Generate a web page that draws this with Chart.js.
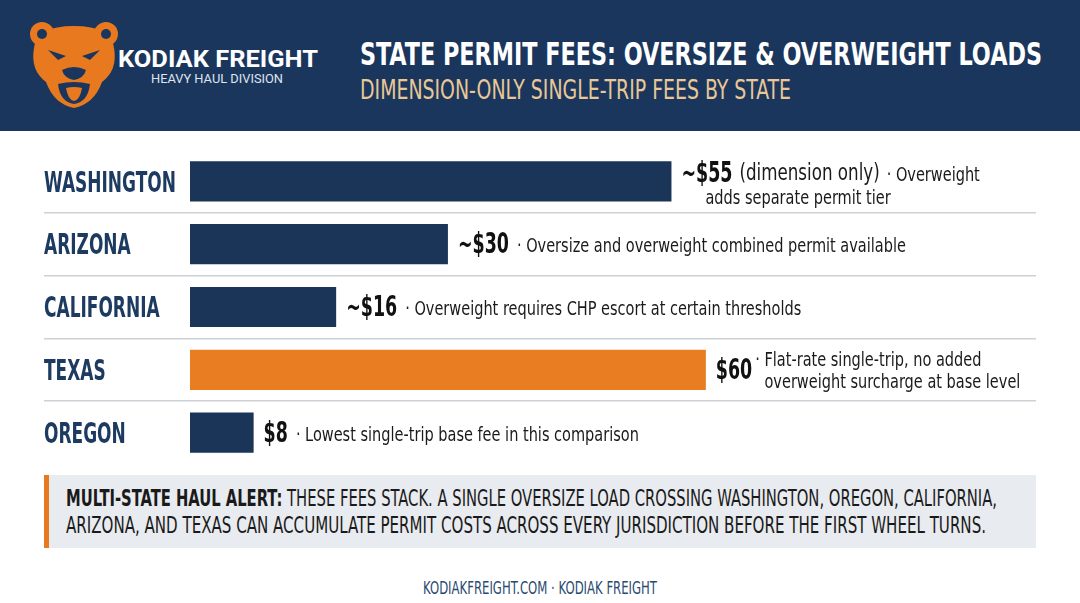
<!DOCTYPE html>
<html>
<head>
<meta charset="utf-8">
<script src="https://cdn.jsdelivr.net/npm/chart.js@4.4.1/dist/chart.umd.min.js"></script>
<style>
  html, body { margin: 0; padding: 0; background: #fff; }
  body { width: 1080px; height: 603px; position: relative; overflow: hidden; font-family: 'DejaVu Sans Condensed', sans-serif; }
  .header { position: absolute; left: 0; top: 0; width: 1080px; height: 131px; background: #1b365d; }
  .fit { position: absolute; white-space: nowrap; transform-origin: left center; line-height: 1; }
  #chartBox { position: absolute; left: 44px; top: 150px; width: 1036px; height: 314px; }
  .alert { position: absolute; left: 44px; top: 475px; width: 992px; height: 73px; background: #e8ebef; border-left: 5px solid #e8791f; box-sizing: border-box; }
</style>
</head>
<body>
<div class="header">
  <svg style="position:absolute;left:28px;top:18px" width="92" height="92" viewBox="0 0 92 92">
    <g fill="#e8791f">
      <circle cx="14" cy="16" r="12"/>
      <circle cx="78" cy="16" r="12"/>
      <path d="M6 30 Q8 8 46 8 Q84 8 86 30 Q90 52 74 64 Q66 86 46 90 Q26 86 18 64 Q2 52 6 30 Z"/>
    </g>
    <g fill="#1b365d">
      <circle cx="14" cy="16" r="5"/>
      <circle cx="78" cy="16" r="5"/>
      <path d="M20 32 L38 38 L30 42 Z"/>
      <path d="M72 32 L54 38 L62 42 Z"/>
      <path d="M34 52 Q46 46 58 52 Q56 60 46 62 Q36 60 34 52 Z"/>
      <path d="M30 66 Q46 62 62 66 Q60 84 46 86 Q32 84 30 66 Z"/>
    </g>
    <path d="M38 70 Q46 68 54 70 Q52 82 46 83 Q40 82 38 70 Z" fill="#e8791f"/>
  </svg>
  <div class="fit" data-w="200" style="left:118px;top:47px;font-family:Roboto,sans-serif;font-weight:700;font-size:24px;color:#fff">KODIAK FREIGHT</div>
  <div class="fit" data-w="132" style="left:151px;top:72px;font-family:Roboto,sans-serif;font-size:13px;color:#dfe5ee">HEAVY HAUL DIVISION</div>
  <div class="fit" data-w="682" style="left:360px;top:38px;font-weight:700;font-size:32px;color:#fff">STATE PERMIT FEES: OVERSIZE &amp; OVERWEIGHT LOADS</div>
  <div class="fit" data-w="431" style="left:360px;top:77px;font-size:26px;color:#e9c896">DIMENSION-ONLY SINGLE-TRIP FEES BY STATE</div>
</div>

<div id="chartBox"><canvas id="chart"></canvas></div>

<div class="alert"></div>
<div class="fit" data-w="931" style="left:66px;top:487px;font-size:23px;color:#1a1a1a"><b>MULTI-STATE HAUL ALERT:</b> THESE FEES STACK. A SINGLE OVERSIZE LOAD CROSSING WASHINGTON, OREGON, CALIFORNIA,</div>
<div class="fit" data-w="920" style="left:66px;top:514px;font-size:23px;color:#1a1a1a">ARIZONA, AND TEXAS CAN ACCUMULATE PERMIT COSTS ACROSS EVERY JURISDICTION BEFORE THE FIRST WHEEL TURNS.</div>
<div class="fit" data-w="234" style="left:423px;top:579px;font-size:18px;color:#2b4a70">KODIAKFREIGHT.COM · KODIAK FREIGHT</div>

<script>
// states and single-trip fee (bar length)
const states = ['WASHINGTON', 'ARIZONA', 'CALIFORNIA', 'TEXAS', 'OREGON'];
const feeValues = [56, 30, 17, 60, 7.4];
const feeLabels = ['~$55', '~$30', '~$16', '$60', '$8'];
const feeExtra = ['(dimension only)', '', '', '', ''];
const notes = [
  ['· Overweight', 'adds separate permit tier'],
  ['· Oversize and overweight combined permit available'],
  ['· Overweight requires CHP escort at certain thresholds'],
  ['· Flat-rate single-trip, no added', 'overweight surcharge at base level'],
  ['· Lowest single-trip base fee in this comparison']
];
const highlightState = 'TEXAS';

const NAVY = '#1a3558';
const ORANGE = '#e97d22';
const FONT = "'DejaVu Sans Condensed', sans-serif";

function fitAll() {
  document.querySelectorAll('.fit').forEach(el => {
    el.style.transform = 'none';
    const w = el.getBoundingClientRect().width;
    el.style.transform = 'scaleX(' + (el.dataset.w / w) + ')';
  });
}

// squeeze factor so a sample string comes out at the width seen in the picture
function squeeze(ctx, font, sample, width) {
  ctx.font = font;
  return width / ctx.measureText(sample).width;
}
// draws narrowed text, returns its drawn width
function narrowText(ctx, text, x, y, font, sx) {
  ctx.font = font;
  ctx.save();
  ctx.translate(x, y);
  ctx.scale(sx, 1);
  ctx.fillText(text, 0, 0);
  ctx.restore();
  ctx.font = font;
  return ctx.measureText(text).width * sx;
}

const noteLabels = {
  id: 'noteLabels',
  afterDatasetsDraw(chart) {
    const ctx = chart.ctx;
    const yScale = chart.scales.y;
    const meta = chart.getDatasetMeta(0);
    const stateFont = 'bold 28px ' + FONT;
    const valFont = 'bold 28px ' + FONT;
    const extraFont = '23px ' + FONT;
    const noteFont = '20px ' + FONT;
    ctx.save();
    ctx.textBaseline = 'middle';
    ctx.textAlign = 'left';
    const sState = squeeze(ctx, stateFont, 'WASHINGTON', 132);
    const sVal = squeeze(ctx, valFont, '~$30', 51);
    const sNote = squeeze(ctx, noteFont, notes[1][0], 389);

    states.forEach((s, i) => {
      ctx.fillStyle = '#1d3a60';
      narrowText(ctx, s, yScale.left, yScale.getPixelForValue(i) + 3, stateFont, sState);
    });

    meta.data.forEach((bar, i) => {
      const x = bar.x + 10;
      const y = bar.y + 2;
      const twoLine = notes[i].length > 1;
      ctx.fillStyle = '#111';
      if (twoLine && feeExtra[i]) {
        const y1 = y - 9, y2 = y + 15;
        let w = narrowText(ctx, feeLabels[i], x, y1, valFont, sVal);
        ctx.fillStyle = '#1a1a1a';
        w += 7;
        w += narrowText(ctx, feeExtra[i], x + w, y1, extraFont, sNote);
        narrowText(ctx, notes[i][0], x + w + 7, y1 + 1, noteFont, sNote);
        narrowText(ctx, notes[i][1], x + 24, y2, noteFont, sNote);
      } else if (twoLine) {
        const w = narrowText(ctx, feeLabels[i], x, y, valFont, sVal);
        ctx.fillStyle = '#1a1a1a';
        const nx = x + w + 3;
        narrowText(ctx, notes[i][0], nx, y - 11, noteFont, sNote);
        ctx.font = noteFont;
        const dotW = ctx.measureText('· ').width * sNote;
        narrowText(ctx, notes[i][1], nx + dotW, y + 11, noteFont, sNote);
      } else {
        const w = narrowText(ctx, feeLabels[i], x, y, valFont, sVal);
        ctx.fillStyle = '#1a1a1a';
        narrowText(ctx, notes[i][0], x + w + 8, y + 1, noteFont, sNote);
      }
    });
    ctx.restore();
  }
};

function drawChart() {
  const ctx = document.getElementById('chart');
  new Chart(ctx, {
    type: 'bar',
    data: {
      labels: states,
      datasets: [{
        data: feeValues,
        backgroundColor: states.map(s => s === highlightState ? ORANGE : NAVY),
        borderWidth: 0,
        categoryPercentage: 1,
        barPercentage: 0.64
      }]
    },
    options: {
      indexAxis: 'y',
      responsive: true,
      maintainAspectRatio: false,
      animation: false,
      layout: { padding: { left: 0, top: 0, bottom: 0, right: 44 } },
      plugins: { legend: { display: false }, tooltip: { enabled: false } },
      scales: {
        x: { display: false, min: 0, max: 98.4 },
        y: {
          afterFit(scale) {
            scale.width = 146;
            scale.paddingTop = 0;
            scale.paddingBottom = 0;
          },
          border: { display: false },
          grid: {
            offset: true,
            drawTicks: true,
            tickLength: 146,
            lineWidth: 1.5,
            color: c => (c.type !== 'tick' || c.index === 0) ? 'rgba(0,0,0,0)' : '#cdd0d5'
          },
          ticks: { display: false }
        }
      }
    },
    plugins: [noteLabels]
  });
}

document.fonts.ready.then(() => { fitAll(); drawChart(); });
</script>
</body>
</html>
